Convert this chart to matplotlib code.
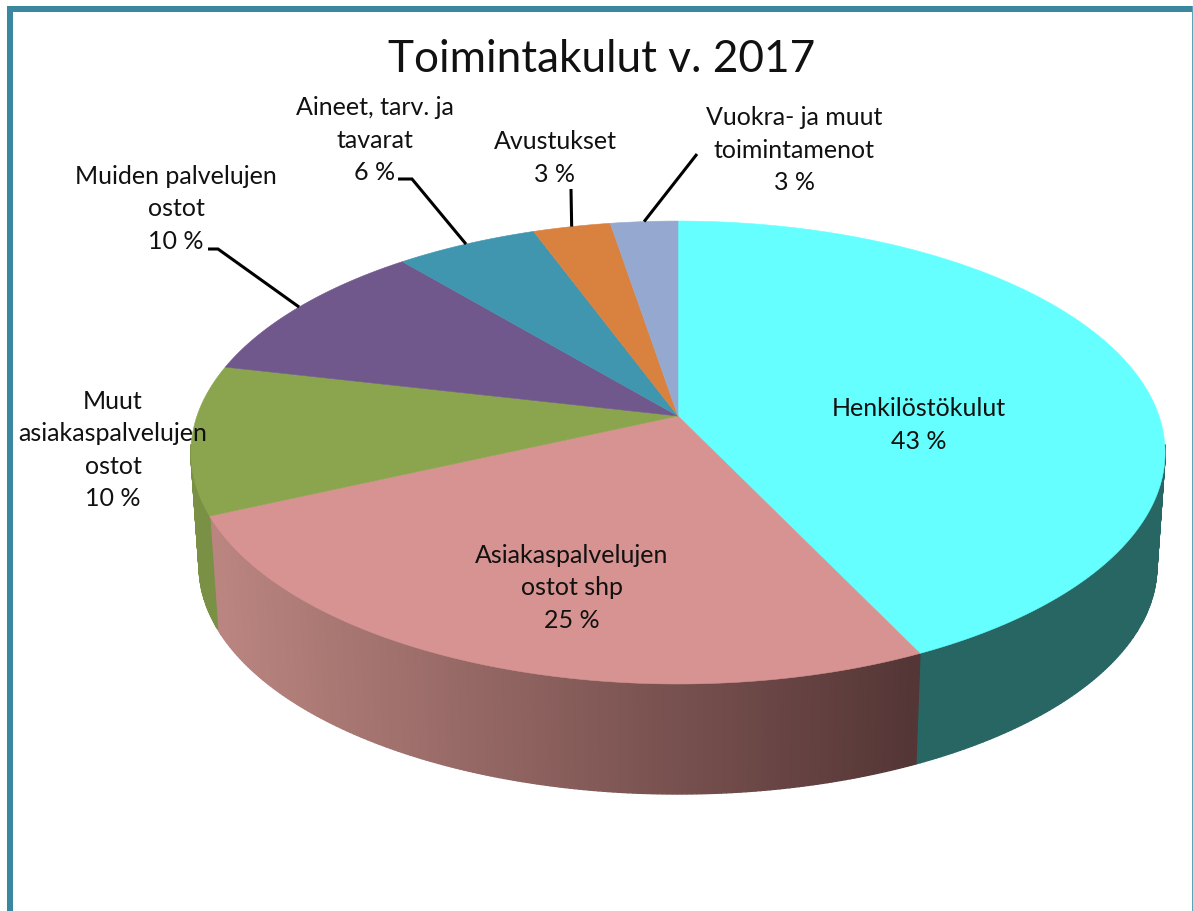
import numpy as np
import matplotlib
matplotlib.use("Agg")
import matplotlib.pyplot as plt
from matplotlib.patches import Polygon
from matplotlib.colors import to_rgb

TITLE = "Toimintakulut v. 2017"
categories = ["Henkilöstökulut", "Asiakaspalvelujen\nostot shp", "Muut\nasiakaspalvelujen\nostot",
              "Muiden palvelujen\nostot", "Aineet, tarv. ja\ntavarat", "Avustukset",
              "Vuokra- ja muut\ntoimintamenot"]
values = [42.9, 25.3, 10.4, 10.3, 5.5, 3.0, 2.6]
pct_labels = ["43 %", "25 %", "10 %", "10 %", "6 %", "3 %", "3 %"]
top_colors = ["#66FFFF", "#D79391", "#8BA54F", "#70588C", "#4096AF", "#D98240", "#95A9D0"]
label_xy = [(919, 425), (572, 588), (113, 450), (176, 209), (375, 140), (555, 158), (794, 150)]

# Layout of the tilted pie, in pixels of the figure
CX, CY, A, B, K = 678.0, 417.0, 481.0, 225.7, 0.1577
DEPTH, SHRINK = 114.6, 0.983
W, H = 1193, 912
FONT = "Lato"

fig = plt.figure(figsize=(W / 100, H / 100), dpi=100)
ax = fig.add_axes([0, 0, 1, 1])
ax.set_xlim(0, W)
ax.set_ylim(H, 0)
ax.axis("off")


def rim(theta, bottom=False):
    x, y = np.sin(theta), np.cos(theta)
    sx = A * x / (1 + K * y)
    sy = -B * y / (1 + K * y)
    if bottom:
        return CX + SHRINK * sx, CY + SHRINK * sy + DEPTH
    return CX + sx, CY + sy


def side_colour(i, px):
    if i == 0:
        return "#286664"
    if i == 1:
        t = np.clip((px - 218) / (915 - 218), 0, 1)
        return tuple((1 - t) * np.array([0.73, 0.52, 0.50]) + t * np.array([0.33, 0.21, 0.21]))
    return tuple(0.87 * np.array(to_rgb(top_colors[i])))


edges = 2 * np.pi * np.concatenate([[0], np.cumsum(values)]) / sum(values)

# Sides first, only where they face the viewer; the top surface then goes over them
for i in range(len(values)):
    th = np.linspace(edges[i], edges[i + 1], max(int(np.degrees(edges[i + 1] - edges[i]) * 2), 3))
    for a, b in zip(th[:-1], th[1:]):
        if np.cos((a + b) / 2) > -0.12:
            continue
        t1, t2 = rim(a), rim(b)
        b1, b2 = rim(a, True), rim(b, True)
        c = side_colour(i, (t1[0] + t2[0]) / 2)
        ax.add_patch(Polygon([t1, t2, b2, b1], closed=True, fc=c, ec=c, lw=1.0, zorder=2))

for i in range(len(values)):
    th = np.linspace(edges[i], edges[i + 1], 200)
    xs, ys = rim(th)
    pts = np.column_stack([np.r_[CX, xs], np.r_[CY, ys]])
    ax.add_patch(Polygon(pts, closed=True, fc=top_colors[i], ec=top_colors[i], lw=0.4, zorder=3))

# Leader lines run from beside the label to the rim at the middle of the sector
leaders = {3: [(208, 250), (218, 250)], 4: [(398, 180), (412, 180)], 5: [(571, 190)], 6: [(697, 155)]}
for i, start in leaders.items():
    end = rim((edges[i] + edges[i + 1]) / 2)
    px, py = zip(*(start + [end]))
    ax.plot(px, py, color="black", lw=2.2, zorder=4, solid_capstyle="butt", solid_joinstyle="miter")

for name, pct, (x, y) in zip(categories, pct_labels, label_xy):
    ax.text(x, y, f"{name}\n{pct}", ha="center", va="center", fontsize=18, family=FONT,
            color="#111111", linespacing=1.49, zorder=5)

ax.text(602, 60, TITLE, ha="center", va="center", fontsize=31.8, family=FONT, color="#111111", zorder=5)

# Frame, open at the bottom
frame = "#3A87A0"
ax.fill_between([7, 12.5], 7, H, color=frame, lw=0, zorder=1)
ax.fill_between([7, W], 7, 12.5, color=frame, lw=0, zorder=1)
ax.fill_between([W - 1.5, W], 7, H, color="#5FA3B8", lw=0, zorder=1)

fig.savefig("out.png", dpi=100)
